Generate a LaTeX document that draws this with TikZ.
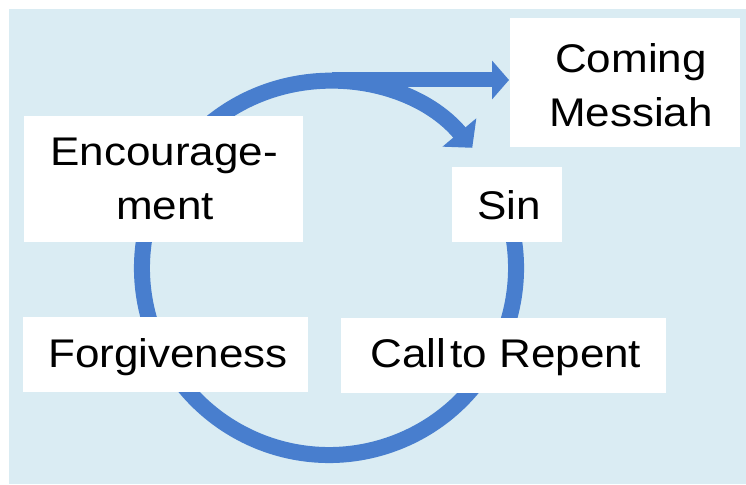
\documentclass[tikz,border=0pt]{standalone}
\usepackage{fontspec}
\setmainfont{Liberation Sans}[FakeStretch=1.1]
\usetikzlibrary{arrows.meta,calc}
\definecolor{bgblue}{RGB}{218,236,243}
\definecolor{ringblue}{RGB}{72,126,206}
\begin{document}
\begin{tikzpicture}[x=1pt,y=1pt,
  ring/.style={draw=ringblue, line width=16pt},
  tipstyle/.style={-{Triangle[length=17pt,width=38pt]}},
  cyctip/.style={-{Triangle[length=20pt,width=43pt]}},
  whitebox/.style={fill=white, draw=none},
  lbl/.style={font=\fontsize{40}{54}\selectfont, inner sep=0pt, anchor=base, align=center, text=black}]
\useasboundingbox (0,0) rectangle (746,484);
\fill[white] (0,0) rectangle (746,484);
\fill[bgblue] (9,0) rectangle (746,475);
% cycle ring
\coordinate (c) at (329,216);
\coordinate (ringstart) at ($(c)+(20:187)$);
\draw[ring, cyctip] (ringstart) arc[start angle=20, end angle=-320, radius=187];
% branch to Coming Messiah
\coordinate (top) at (332,404);
\coordinate (mtip) at (509,404);
\draw[ring, line width=15pt, tipstyle] (top) -- (mtip);
% boxes
\path[whitebox] (510,337) rectangle (740,466);
\path[whitebox] (24,242) rectangle (303,368);
\path[whitebox] (452,242) rectangle (562,317);
\path[whitebox] (23,92) rectangle (308,167);
\path[whitebox] (341,91) rectangle (666,166);
% labels
\node[lbl] (coming) at (631,411) {Coming};
\node[lbl] (messiah) at (631,357) {Messiah};
\node[lbl] (enc) at (164,318) {Encourage-};
\node[lbl] (ment) at (165,264) {ment};
\node[lbl] (sin) at (509,264) {Sin};
\node[lbl] (forg) at (168,116) {Forgiveness};
\node[lbl] (call) at (506,116) {Call\kern0.1em to Repent};
\end{tikzpicture}
\end{document}
